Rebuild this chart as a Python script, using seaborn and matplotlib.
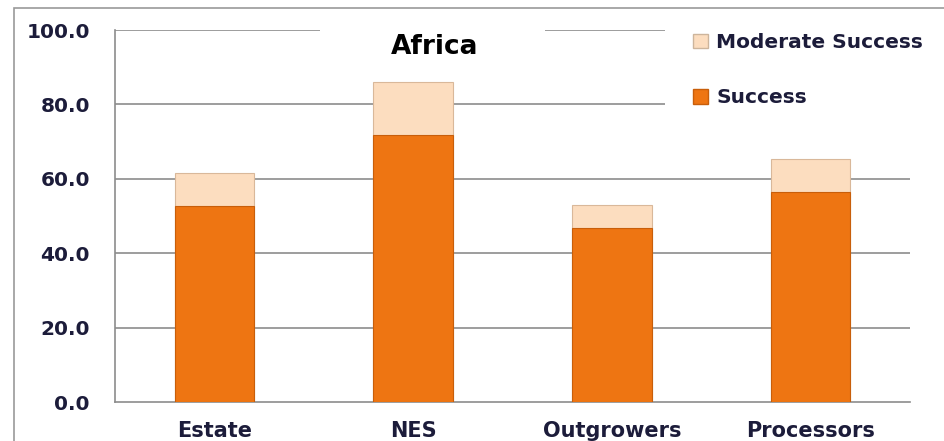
"""
Stacked success bars for Africa, drawn with seaborn
"""
import numpy as np
import pandas as pd
import matplotlib
matplotlib.use("Agg")
import matplotlib.pyplot as plt
import seaborn as sns
from matplotlib.patches import Rectangle, Patch

# data
categories = ["Estate", "NES", "Outgrowers", "Processors"]
success = [52.8, 71.8, 46.8, 56.5]
moderate_success = [8.8, 14.2, 6.2, 8.8]
yticks = [0.0, 20.0, 40.0, 60.0, 80.0, 100.0]

ORANGE = "#EE7512"
PEACH = "#FCDDBF"
TEXT = "#1C1C3A"
GRID = "#8C8C8C"

df = pd.DataFrame({"category": categories,
                   "success": success,
                   "moderate": moderate_success})
df["total"] = df["success"] + df["moderate"]

sns.set_style("white")
plt.rcParams["font.family"] = ["DejaVu Sans"]

fig = plt.figure(figsize=(9.45, 4.41), dpi=100)
ax = fig.add_axes([115 / 945, 1 - 402 / 441, 795 / 945, 372 / 441])

# outer chart frame
fig.patches.append(Rectangle((14 / 945, -0.05), 1.0, 1 - 8 / 441 + 0.05,
                             transform=fig.transFigure, fill=False,
                             edgecolor="#9A9A9A", linewidth=1.2, zorder=0))

# total first (peach), then success on top (orange)
sns.barplot(data=df, x="category", y="total", color=PEACH, width=0.4,
            saturation=1, edgecolor="#D9B89A", linewidth=0.8, ax=ax, zorder=3)
sns.barplot(data=df, x="category", y="success", color=ORANGE, width=0.4,
            saturation=1, edgecolor="#C85E0A", linewidth=0.8, ax=ax, zorder=4)

ax.set_xlim(-0.5, 3.5)
ax.set_ylim(0, 100)
ax.set_yticks(yticks)
ax.set_yticklabels([f"{v:.1f}" for v in yticks])
ax.set_xlabel("")
ax.set_ylabel("")

# gridlines
for v in yticks[1:]:
    ax.axhline(v, color=GRID, linewidth=1.2, zorder=1)

for side in ["top", "right"]:
    ax.spines[side].set_visible(False)
for side in ["left", "bottom"]:
    ax.spines[side].set_color(GRID)
    ax.spines[side].set_linewidth(1.2)

ax.tick_params(axis="y", direction="out", length=8, width=1.2, color=GRID,
               pad=10, labelsize=14.5, labelcolor=TEXT)
ax.tick_params(axis="x", which="major", length=0, pad=14, labelsize=15,
               labelcolor=TEXT)
ax.set_xticks(np.arange(-0.5, 4.0, 1.0), minor=True)
ax.tick_params(axis="x", which="minor", direction="out", length=6, width=1.2,
               color=GRID)
for lbl in ax.get_xticklabels() + ax.get_yticklabels():
    lbl.set_fontweight("bold")


def px_box(x0, y0, x1, y1):
    # white box given in pixels (top-left origin), breaks the gridlines
    ax_x0 = (x0 - 115) / 795
    ax_x1 = (x1 - 115) / 795
    ax_y0 = (402 - y1) / 372
    ax_y1 = (402 - y0) / 372
    return Rectangle((ax_x0, ax_y0), ax_x1 - ax_x0, ax_y1 - ax_y0,
                     transform=ax.transAxes, facecolor="white",
                     edgecolor="none", zorder=2, clip_on=False)


ax.add_patch(px_box(320, 20, 545, 75))
ax.add_patch(px_box(665, 20, 935, 120))

ax.text((435 - 115) / 795, (402 - 47) / 372, "Africa",
        transform=ax.transAxes, ha="center", va="center", fontsize=19,
        fontweight="bold", color="black", zorder=6)

handles = [Patch(facecolor=PEACH, edgecolor="#CDB59C", label="Moderate Success"),
           Patch(facecolor=ORANGE, edgecolor="#C85E0A", label="Success")]
leg = ax.legend(handles=handles, loc="upper left",
                bbox_to_anchor=((677 - 115) / 795, (402 - 17) / 372),
                frameon=False, handlelength=0.75, handleheight=0.75,
                handletextpad=0.4, labelspacing=1.8, borderpad=0.3,
                prop={"weight": "bold", "size": 14.5})
for t in leg.get_texts():
    t.set_color(TEXT)
leg.set_zorder(6)

fig.savefig("out.png", dpi=100)
